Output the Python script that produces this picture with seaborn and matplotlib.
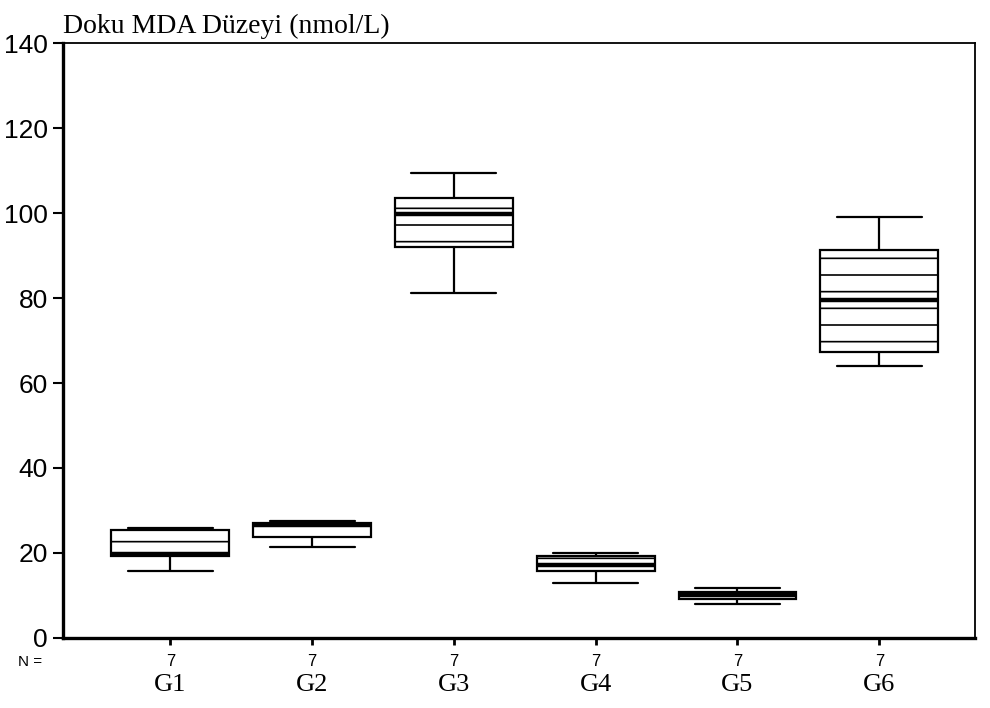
import numpy as np
import pandas as pd
import matplotlib
matplotlib.use("Agg")
import matplotlib.pyplot as plt
import matplotlib.transforms as mtransforms
import seaborn as sns

# gruplar ve 7'ser olcum
groups = ["G1", "G2", "G3", "G4", "G5", "G6"]
g1 = [15.8, 19.2, 19.4, 19.7, 25.2, 25.6, 25.9]
g2 = [21.4, 23.6, 24.0, 26.6, 26.9, 27.1, 27.5]
g3 = [81.2, 91.5, 92.5, 99.8, 103.0, 104.0, 109.4]
g4 = [12.9, 15.6, 16.0, 17.2, 19.1, 19.5, 20.0]
g5 = [8.0, 9.1, 9.3, 10.0, 10.6, 11.0, 11.8]
g6 = [64.0, 67.0, 67.6, 79.5, 91.0, 91.6, 99.0]
values = [g1, g2, g3, g4, g5, g6]
yticks = [0, 20, 40, 60, 80, 100, 120, 140]

df = pd.DataFrame({
    "grup": np.repeat(groups, [len(v) for v in values]),
    "mda": np.concatenate(values),
})

sns.set_style("ticks")
plt.rcParams["font.family"] = ["Liberation Sans", "DejaVu Sans"]
plt.rcParams["hatch.linewidth"] = 1.2
plt.rcParams["text.color"] = "black"
plt.rcParams["xtick.color"] = "black"
plt.rcParams["ytick.color"] = "black"

fig = plt.figure(figsize=(9.9, 7.08), dpi=100)
ax = plt.axes()
plt.subplots_adjust(left=0.064, right=0.985, top=0.939, bottom=0.099)

ax = sns.boxplot(data=df, x="grup", y="mda", order=groups, width=0.83,
                 color="white", linecolor="black", linewidth=1.6,
                 capwidths=0.6, medianprops=dict(linewidth=3.2), ax=ax)
for p in ax.patches:
    p.set_hatch("-")

ax.set_xlim(-0.754, 5.676)
ax.set_ylim(0, 140)
ax.set_yticks(yticks)
ax.set_yticklabels([str(t) for t in yticks], fontsize=19)
ax.set_xticks(range(len(groups)))
ax.set_xticklabels(groups, fontsize=19, family=["Liberation Serif"])
ax.tick_params(axis="y", length=7, width=1.5, direction="out", pad=4)
ax.tick_params(axis="x", length=5, width=2, direction="out", pad=21)
ax.set_xlabel("")
ax.set_ylabel("")

for side, spine in ax.spines.items():
    spine.set_visible(True)
    spine.set_color("black")
    spine.set_linewidth(2.4 if side in ("left", "bottom") else 1.3)

# N = satiri
trans = mtransforms.blended_transform_factory(ax.transData, ax.transAxes)
for i, v in enumerate(values):
    ax.text(i, -0.040, str(len(v)), transform=trans, ha="center", va="center", fontsize=12)
ax.text(-0.023, -0.040, "N =", transform=ax.transAxes, ha="right", va="center", fontsize=11)

ax.text(0, 1.017, "Doku MDA Düzeyi (nmol/L)", transform=ax.transAxes,
        ha="left", va="baseline", fontsize=20, family=["Liberation Serif"])

plt.savefig("out.png", dpi=100)
